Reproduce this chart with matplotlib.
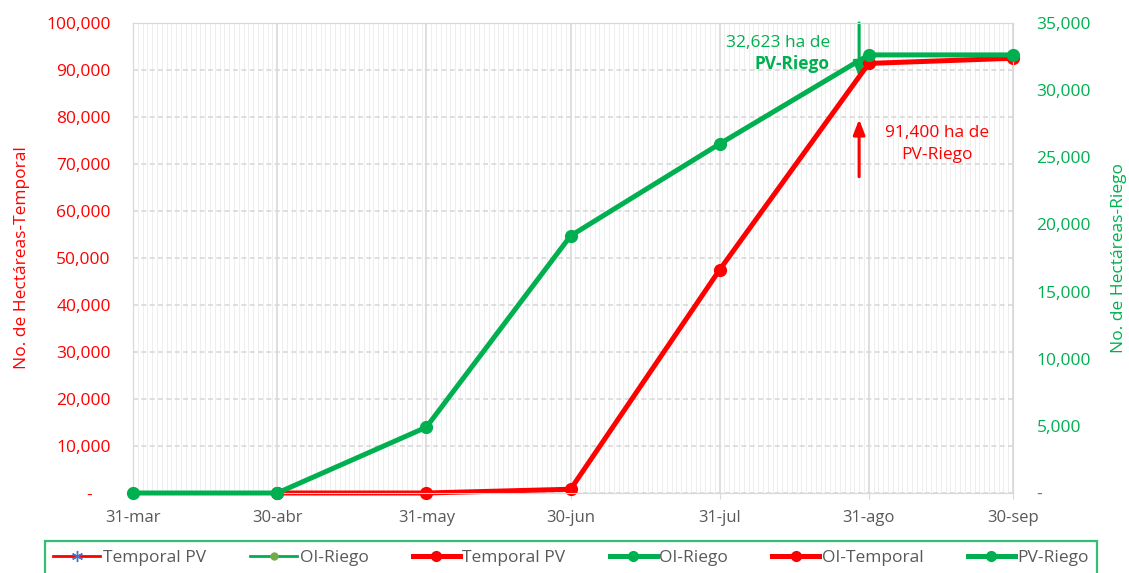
import matplotlib
matplotlib.use("Agg")
import matplotlib.pyplot as plt
import matplotlib.dates as mdates
from matplotlib.ticker import FuncFormatter, MultipleLocator
from matplotlib.lines import Line2D
import numpy as np

# ---- data ----
dates_riego = ["2021-03-31", "2021-04-30", "2021-05-31", "2021-06-30",
               "2021-07-31", "2021-08-31", "2021-09-30"]
pv_riego = [0, 0, 4900, 19150, 26000, 32623, 32623]

dates_temporal = ["2021-04-30", "2021-05-31", "2021-06-30",
                  "2021-07-31", "2021-08-31", "2021-09-30"]
temporal_pv = [0, 0, 800, 47500, 91400, 92500]

tick_dates = ["2021-03-31", "2021-04-30", "2021-05-31", "2021-06-30",
              "2021-07-31", "2021-08-31", "2021-09-30"]
tick_labels = ["31-mar", "30-abr", "31-may", "30-jun", "31-jul", "31-ago", "30-sep"]

legend_labels = ["Temporal PV", "OI-Riego", "Temporal PV", "OI-Riego", "OI-Temporal", "PV-Riego"]

RED = "#FF0000"
GREEN = "#00B050"
GRAY = "#595959"
FONT = ["Open Sans", "DejaVu Sans"]
plt.rcParams["font.family"] = FONT

dr = np.array(dates_riego, dtype="datetime64[D]")
dt = np.array(dates_temporal, dtype="datetime64[D]")
td = np.array(tick_dates, dtype="datetime64[D]")

fig = plt.figure(figsize=(11.29, 5.73), dpi=100)
ax = fig.add_axes([133/1129, 1-493/573, (1013-133)/1129, (493-23)/573])
ax2 = ax.twinx()

# left axis (temporal)
ax.set_ylim(0, 100000)
ax.set_xlim(td[0], td[-1])
ax.yaxis.set_major_locator(MultipleLocator(10000))
ax.yaxis.set_major_formatter(FuncFormatter(lambda v, p: "-    " if v == 0 else f"{v:,.0f}"))
ax.set_xticks(td)
ax.set_xticklabels(tick_labels)
ax.xaxis.set_minor_locator(mdates.DayLocator())
ax.grid(which="minor", axis="x", color="#EEEEEE", linewidth=0.7)
ax.grid(which="major", axis="x", color="#D9D9D9", linewidth=1.2)
ax.grid(which="major", axis="y", color="#D9D9D9", linewidth=1.2, linestyle=(0, (3, 2)))
ax.set_axisbelow(True)
ax.tick_params(axis="y", colors=RED, labelsize=12.5, length=0, pad=16)
ax.tick_params(axis="x", labelsize=12, length=4, pad=8, which="major", colors="#D9D9D9")
ax.tick_params(axis="x", which="minor", length=0)
for lab in ax.get_xticklabels():
    lab.set_color(GRAY)
ax.set_ylabel("No. de Hectáreas-Temporal", color=RED, fontsize=12.5, labelpad=12)
for s in ["top", "right", "left", "bottom"]:
    ax.spines[s].set_color("#D9D9D9")
    ax2.spines[s].set_color("#D9D9D9")

# right axis (riego)
ax2.set_ylim(0, 35000)
ax2.yaxis.set_major_locator(MultipleLocator(5000))
ax2.yaxis.set_major_formatter(FuncFormatter(lambda v, p: "-" if v == 0 else f"{v:,.0f}"))
ax2.tick_params(axis="y", colors=GREEN, labelsize=12.5, length=0, pad=17)
ax2.set_ylabel("No. de Hectáreas-Riego", color=GREEN, fontsize=12.5, rotation=90, labelpad=14)

# series
ax.plot(dt, temporal_pv, color=RED, lw=2, marker=(6, 2, 0), ms=7, mec="#4472C4", mfc="#4472C4", zorder=3)
ax.plot(dt, temporal_pv, color=RED, lw=3.6, marker="o", ms=8.5, zorder=4, clip_on=False)
ax2.plot(dr, pv_riego, color=GREEN, lw=3.6, marker="o", ms=8.5, zorder=5, clip_on=False)

# annotations
xa = td[5] - np.timedelta64(2, "D")
ax.annotate("", xy=(xa, 88500), xytext=(xa, 100000),
            arrowprops=dict(arrowstyle="-|>,head_length=0.9,head_width=0.35", color=GREEN, lw=2.2,
                            shrinkA=0, shrinkB=0), annotation_clip=False)
ax.annotate("", xy=(xa, 79500), xytext=(xa, 67300),
            arrowprops=dict(arrowstyle="-|>,head_length=0.9,head_width=0.35", color=RED, lw=2.2,
                            shrinkA=0, shrinkB=0))
ax.text(830/1129, 1-43/573, "32,623 ha de", transform=fig.transFigure, ha="right", va="center",
        color=GREEN, fontsize=12.5)
ax.text(830/1129, 1-64/573, "PV-Riego", transform=fig.transFigure, ha="right", va="center",
        color=GREEN, fontsize=12.5, fontweight="bold")
ax.text(937/1129, 1-133/573, "91,400 ha de", transform=fig.transFigure, ha="center", va="center",
        color=RED, fontsize=12.5)
ax.text(937/1129, 1-155/573, "PV-Riego", transform=fig.transFigure, ha="center", va="center",
        color=RED, fontsize=12.5)

# legend
handles = [
    Line2D([], [], color=RED, lw=2, marker=(6, 2, 0), ms=8, mec="#4472C4", mfc="#4472C4"),
    Line2D([], [], color=GREEN, lw=2, marker="o", ms=5, mec="#70AD47", mfc="#70AD47"),
    Line2D([], [], color=RED, lw=3.6, marker="o", ms=7),
    Line2D([], [], color=GREEN, lw=3.6, marker="o", ms=7),
    Line2D([], [], color=RED, lw=3.6, marker="o", ms=7),
    Line2D([], [], color=GREEN, lw=3.6, marker="o", ms=7),
]
leg = fig.legend(handles, legend_labels, loc="upper center", bbox_to_anchor=(571/1129, 1-541/573),
                 ncol=6, frameon=True, fancybox=False, fontsize=12.5, handlelength=2.7,
                 handletextpad=0.15, columnspacing=2.55, borderpad=0.5, borderaxespad=0,
                 labelcolor=GRAY)
leg.get_frame().set_edgecolor(GREEN)
leg.get_frame().set_linewidth(1.6)

fig.savefig("out.png", dpi=100)
